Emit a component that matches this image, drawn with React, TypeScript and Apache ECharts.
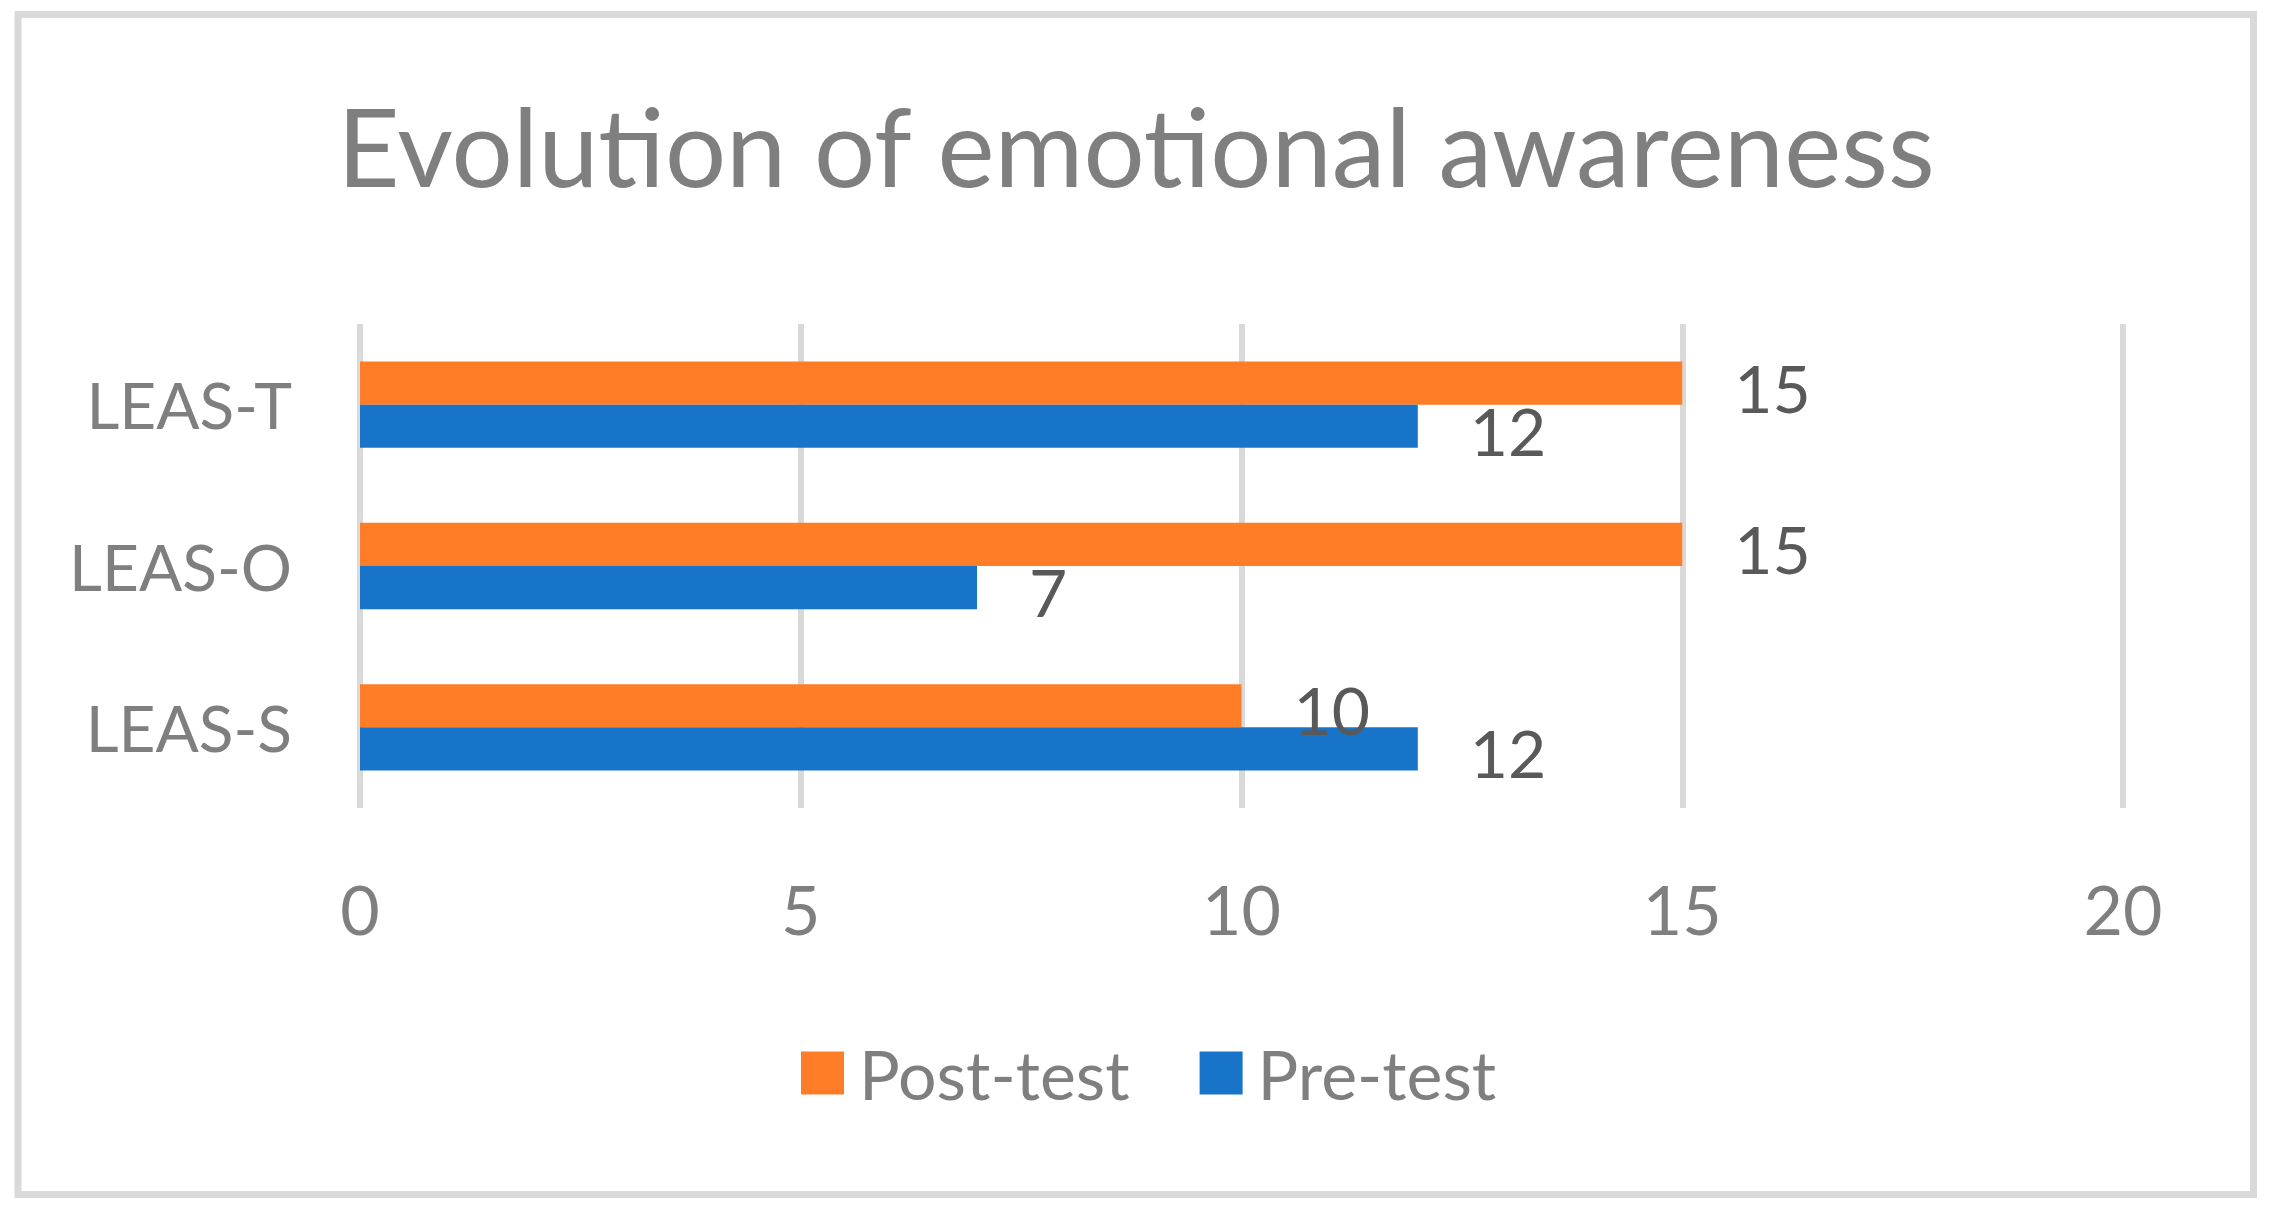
import React, { useEffect, useRef } from "react";
import * as echarts from "echarts";

const categories = ["LEAS-S", "LEAS-O", "LEAS-T"];
const postTest = [10, 15, 15];
const preTest = [12, 7, 12];
const seriesNames = ["Post-test", "Pre-test"];
const xMin = 0;
const xMax = 20;
const xInterval = 5;

export default function App() {
  const ref = useRef<HTMLDivElement>(null);
  useEffect(() => {
    if (!ref.current) return;
    const chart = echarts.init(ref.current, null, { renderer: "svg" });
    const font = "Lato";
    const labelCommon = {
      show: true,
      position: "right",
      distance: 52,
      color: "#595959",
      fontFamily: font,
      fontSize: 66,
      offset: [0, 4],
    };
    chart.setOption({
      animation: false,
      backgroundColor: "#ffffff",
      title: {
        text: "Evolution of emotional awareness",
        left: "center",
        top: 86,
        textStyle: { color: "#7f7f7f", fontFamily: font, fontSize: 108, fontWeight: "normal" },
      },
      graphic: [
        {
          type: "rect",
          shape: { x: 18, y: 14.5, width: 2235.5, height: 1180 },
          style: { fill: "none", stroke: "#d9d9d9", lineWidth: 7 },
          silent: true,
        },
      ],
      legend: {
        data: seriesNames,
        bottom: 102,
        left: 796,
        itemWidth: 43,
        itemHeight: 43,
        itemGap: 70,
        icon: "rect",
        textStyle: { color: "#7f7f7f", fontFamily: font, fontSize: 68, padding: [0, 0, 0, 10] },
      },
      grid: { left: 360, right: 149, top: 324, bottom: 406, containLabel: false },
      xAxis: {
        type: "value",
        min: xMin,
        max: xMax,
        interval: xInterval,
        axisLine: { show: false },
        axisTick: { show: false },
        splitLine: { show: true, lineStyle: { color: "#d9d9d9", width: 6 } },
        axisLabel: { color: "#7f7f7f", fontFamily: font, fontSize: 68, margin: 66 },
      },
      yAxis: {
        type: "category",
        data: categories,
        axisLine: { show: false },
        axisTick: { show: false },
        axisLabel: { color: "#7f7f7f", fontFamily: font, fontSize: 64, margin: 68 },
      },
      series: [
        {
          name: "Post-test",
          type: "bar",
          data: postTest,
          itemStyle: { color: "#FE7D26" },
          barGap: "0%",
          barCategoryGap: "46.5%",
          label: labelCommon,
        },
        {
          name: "Pre-test",
          type: "bar",
          data: preTest,
          itemStyle: { color: "#1874C8" },
          barGap: "0%",
          barCategoryGap: "46.5%",
          label: labelCommon,
        },
      ],
    });
    return () => chart.dispose();
  }, []);
  return (
    <div
      ref={ref}
      style={{ position: "fixed", left: 0, top: 0, width: 2272, height: 1214 }}
    />
  );
}
